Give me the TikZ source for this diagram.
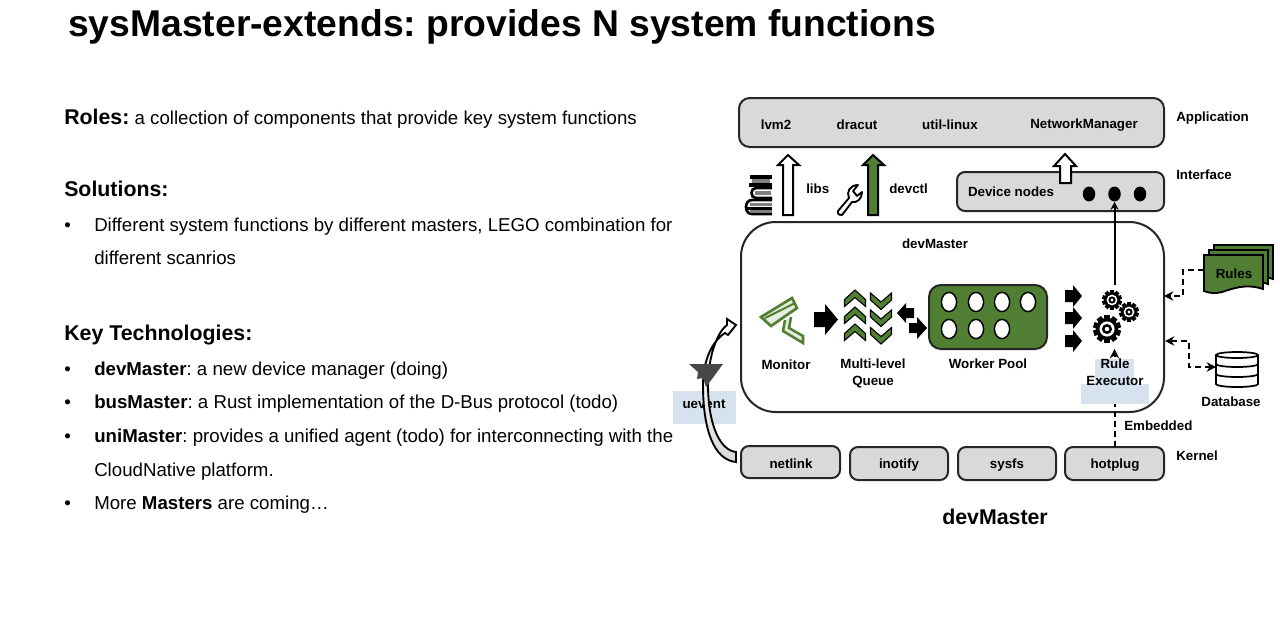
\documentclass[tikz,border=0pt]{standalone}
\usepackage{fontspec}
\setmainfont{Liberation Sans}
\usetikzlibrary{arrows.meta,shapes.geometric}
\definecolor{grn}{HTML}{507E32}
\definecolor{boxg}{HTML}{D9D9D9}
\definecolor{lbl}{HTML}{D6E2EE}
\definecolor{dk}{HTML}{262626}
\frenchspacing
\tikzset{
  x=0.75pt,y=-0.75pt,
  sm/.style={font=\fontsize{10}{11.5}\selectfont\bfseries,text=black,inner sep=0,align=center},
  body/.style={font=\fontsize{14}{16}\selectfont,text=black,inner sep=0,anchor=base west},
  sbox/.style={draw=dk,line width=1.5pt,fill=boxg,rounded corners=6pt},
  blockw/.style={draw=black,line width=1.5pt,fill=white,miter limit=10},
  blockg/.style={draw=black,line width=1.5pt,fill=grn},
  dotnode/.style={ellipse,fill=black,inner sep=0,minimum width=9.4pt,minimum height=11.2pt},
  conn/.style={draw=black,line width=1.2pt,dash pattern=on 4.5pt off 3pt,-{Stealth[length=7pt,width=7pt]}},
}
\newcommand{\gearicon}[3]{% x,y,outer radius
  \begin{scope}[shift={(#1,#2)}]
    \foreach \a in {0,36,...,324}{\fill[black,rotate=\a] (-0.2*#3,-#3) rectangle (0.2*#3,0);}
    \fill[black] (0,0) circle[radius=0.8*#3*0.75pt];
    \fill[white] (0,0) circle[radius=0.54*#3*0.75pt];
    \fill[black] (0,0) circle[radius=0.36*#3*0.75pt];
    \fill[white] (0,0) circle[radius=0.16*#3*0.75pt];
  \end{scope}}
\newcommand{\chevron}[3]{% x center, y tip, direction
  \draw[fill=grn,draw=black,line width=.8pt,miter limit=3] (#1-10.5,#2+#3*9.5) -- (#1,#2) -- (#1+10.5,#2+#3*9.5) -- (#1+10.5,#2+#3*16.5) -- (#1,#2+#3*7.5) -- (#1-10.5,#2+#3*16.5) -- cycle;}
\begin{document}
\begin{tikzpicture}
\useasboundingbox (0,0) rectangle (1280,622);
\fill[white] (0,0) rectangle (1280,622);
% title
\node[font=\fontsize{27.95}{30}\selectfont\bfseries,inner sep=0,anchor=base west] (title) at (68,36) {sysMaster-extends: provides N system functions};
% left text
\node[body] (t1) at (64,124.5) {\fontsize{16}{18}\selectfont\bfseries Roles:\fontsize{14}{16}\selectfont\mdseries\ a collection of components that provide key system functions};
\node[body] (t2) at (64,196) {\fontsize{16}{18}\selectfont\bfseries Solutions:};
\node[body] (b1) at (64,231) {•};
\node[body] (t3) at (94,231) {Different system functions by different masters, LEGO combination for};
\node[body] (t4) at (94,264) {different scanrios};
\node[body] (t5) at (64,340) {\fontsize{16}{18}\selectfont\bfseries Key Technologies:};
\node[body] (b2) at (64,375) {•};
\node[body] (t6) at (94,375) {\textbf{devMaster}: a new device manager (doing)};
\node[body] (b3) at (64,408) {•};
\node[body] (t7) at (94,408) {\textbf{busMaster}: a Rust implementation of the D-Bus protocol (todo)};
\node[body] (b4) at (64,442) {•};
\node[body] (t8) at (94,442) {\textbf{uniMaster}: provides a unified agent (todo) for interconnecting with the};
\node[body] (t9) at (94,476) {CloudNative platform.};
\node[body] (b5) at (64,509) {•};
\node[body] (t10) at (94,509) {More \textbf{Masters} are coming…};
\node[font=\fontsize{16}{18}\selectfont\bfseries,inner sep=0] (cap) at (995,517) {devMaster};
% application
\draw[sbox,rounded corners=8pt] (739,98) rectangle (1164,147);
\node[sm] (lvm) at (776,125) {lvm2};
\node[sm] (dracut) at (857,125) {dracut};
\node[sm] (util) at (950,125) {util-linux};
\node[sm] (nm) at (1084,125.5) {NetworkManager};
\node[sm,anchor=west] (lapp) at (1176,118) {Application};
\node[sm,anchor=west] (lint) at (1176,175) {Interface};
\node[sm,anchor=west] (lker) at (1176,456) {Kernel};
% interface
\draw[sbox] (957,172) rectangle (1164,211);
\node[sm] (dn) at (1011,192) {Device nodes};
\node[dotnode] (d1) at (1089,194) {};
\node[dotnode] (d2) at (1114.5,194) {};
\node[dotnode] (d3) at (1140,194) {};
% block arrows
\draw[blockw] (1060,183) -- (1060,166) -- (1054,166) -- (1065,154) -- (1076,166) -- (1071,166) -- (1071,183) -- cycle;
\draw[blockw] (783,215) -- (783,165) -- (778,165) -- (788,155) -- (799,165) -- (793,165) -- (793,215) -- cycle;
\draw[blockg] (868,215) -- (868,165) -- (863,165) -- (873,155) -- (884,165) -- (878,165) -- (878,215) -- cycle;
\node[sm,anchor=west] (libs) at (806,189) {libs};
\node[sm,anchor=west] (devctl) at (889,189) {devctl};
% books
\begin{scope}[black]
  \fill (750,175) rectangle (772,179);
  \fill[gray] (752,179) rectangle (770,183);
  \fill (749,183) rectangle (772,187);
  \draw[line width=2pt] (772,188) -- (756,188) .. controls (750,188) and (750,198) .. (756,198) -- (772,198);
  \fill[gray] (755,191) rectangle (771,195);
  \draw[line width=2pt] (772,200) -- (752,200) .. controls (744,200) and (744,214) .. (752,214) -- (772,214);
  \fill[gray] (750,203) rectangle (772,206);
  \fill (747,207) rectangle (772,209.5);
  \fill[gray] (750,209.5) rectangle (772,212.5);
\end{scope}
% wrench
\draw[black,line width=1.4pt,fill=white,line join=round] (838,211) -- (849,198) .. controls (846,192) and (850,185) .. (858,185) -- (853,191) -- (857,196) -- (862,192) .. controls (862,199) and (857,203) .. (852,202) -- (842,215) .. controls (840,216) and (837,214) .. (838,211) -- cycle;
% main box
\draw[draw=dk,line width=1.5pt,fill=white,rounded corners=26pt] (741,222) rectangle (1164,412);
\node[sm] (dm) at (935,244) {devMaster};
% monitor camera
\begin{scope}[draw=grn,line join=miter]
  \draw[line width=2pt,fill=white!85!grn] (761,317) -- (792,298) -- (797,308) -- (771,326) -- cycle;
  \draw[line width=1.5pt] (765,318) -- (795,303);
  \draw[line width=1.9pt,fill=white!85!grn] (785,320) -- (783,331) -- (803,343) -- (803,336) -- (789,328) -- (791,317);
\end{scope}
% arrows in main box
\fill[black] (814,312) -- (825,312) -- (825,304) -- (838,319.5) -- (825,335) -- (825,327) -- (814,327) -- cycle;
\foreach \y in {290,307,324} \chevron{855}{\y}{1};
\foreach \y in {309.5,326.5,344} \chevron{881}{\y}{-1};
\fill[black] (914,308) -- (906,308) -- (906,303) -- (897,313) -- (906,323) -- (906,318) -- (914,318) -- cycle;
\fill[black] (909,323) -- (917,323) -- (917,317) -- (927,328) -- (917,339) -- (917,333) -- (909,333) -- cycle;
% worker pool
\draw[draw=dk,line width=1.5pt,fill=grn,rounded corners=9pt] (929,285) rectangle (1047,349);
\foreach \x in {949,976,1002,1028} \draw[black,line width=1.1pt,fill=white] (\x,302) ellipse[x radius=5.7pt,y radius=7.2pt];
\foreach \x in {949,976,1002} \draw[black,line width=1.1pt,fill=white] (\x,329) ellipse[x radius=5.7pt,y radius=7.2pt];
\node[sm] (mon) at (786,365) {Monitor};
\node[sm] (mlq) at (873,373.5) {Multi-level\\[1pt]Queue};
\node[sm] (wp) at (988,364) {Worker Pool};
\foreach \y in {296,318,341}
  \fill[black] (1065,\y-6) -- (1073,\y-6) -- (1073,\y-11) -- (1082,\y) -- (1073,\y+11) -- (1073,\y+6) -- (1065,\y+6) -- cycle;
% connector gears -> dots
\coordinate (gtop) at (1114.5,285);
\draw[black,line width=1.5pt,-{Stealth[length=6pt,width=6pt]}] (gtop) -- (d2.south);
% gears
\gearicon{1107}{329}{14}
\gearicon{1112}{300}{10}
\gearicon{1129}{312}{10}
% kernel
\draw[sbox] (741,446) rectangle (840,478);
\draw[sbox] (850,447) rectangle (948,480);
\draw[sbox] (958,447) rectangle (1056,480);
\draw[sbox] (1065,447) rectangle (1164,480);
\node[sm] (k1) at (791,463.5) {netlink};
\node[sm] (k2) at (899,465) {inotify};
\node[sm] (k3) at (1007,465) {sysfs};
\node[sm] (k4) at (1115,465) {hotplug};
\node[sm,anchor=west] (emb) at (1124,426) {Embedded};
% embedded dashed connector
\coordinate (hpt) at (1114.5,447);
\coordinate (gbot) at (1114.5,349);
\draw[conn,line width=1.5pt] (hpt) -- (gbot);
% blue labels
\fill[lbl] (1095,359) rectangle (1134,384);
\fill[lbl] (1081,384) rectangle (1149,404);
\node[sm] (re) at (1115,372.5) {Rule\\[1pt]Executor};
% rules stack
\foreach \dx/\dy in {10/-10,5/-5,0/0}
  \draw[black,line width=1.4pt,fill=grn] (1204+\dx,255+\dy) -- (1263+\dx,255+\dy) -- (1263+\dx,289+\dy) .. controls (1245+\dx,283+\dy) and (1232+\dx,289+\dy) .. (1222+\dx,292+\dy) .. controls (1215+\dx,294+\dy) and (1209+\dx,293+\dy) .. (1204+\dx,291+\dy) -- cycle;
\node[sm] (rules) at (1234,273.5) {Rules};
\coordinate (rl) at (1204,270);
\coordinate (mr1) at (1164,296);
\draw[conn] (rl) -- (1183,270) -- (1183,296) -- (mr1);
% database
\draw[black,line width=1.3pt,fill=white] (1216,355) -- (1216,384) arc[start angle=180,end angle=360,x radius=15.75pt,y radius=2.25pt] -- (1258,355) arc[start angle=0,end angle=180,x radius=15.75pt,y radius=2.25pt] -- cycle;
\draw[black,line width=1.3pt] (1216,355) arc[start angle=180,end angle=360,x radius=15.75pt,y radius=2.25pt];
\draw[black,line width=1.3pt] (1216,364) arc[start angle=180,end angle=360,x radius=15.75pt,y radius=2.25pt];
\draw[black,line width=1.3pt] (1216,374) arc[start angle=180,end angle=360,x radius=15.75pt,y radius=2.25pt];
\node[sm] (db) at (1231,402) {Database};
\coordinate (mr2) at (1165,341);
\coordinate (dbl) at (1216,367);
\draw[conn,{Stealth[length=7pt,width=7pt]}-{Stealth[length=7pt,width=7pt]}] (mr2) -- (1189,341) -- (1189,367) -- (dbl);
% uevent
\fill[lbl] (673,391) rectangle (736,424);
\node[sm] (ue) at (704,404) {uevent};
\draw[black,line width=1.4pt,miter limit=10,top color=white,bottom color=boxg] (736,462) .. controls (714,460) and (703,430) .. (703,385) .. controls (703,362) and (711,342) .. (725,333) -- (728,335) -- (736,325) -- (727,319) -- (727,325) .. controls (716,333) and (708,360) .. (708,385) .. controls (708,420) and (718,450) .. (736,452) -- cycle;
\fill[black!72] (689,364) -- (723,364) -- (706,387) -- (703,378) -- (697,379) -- (698,372) -- cycle;
\end{tikzpicture}
\end{document}
